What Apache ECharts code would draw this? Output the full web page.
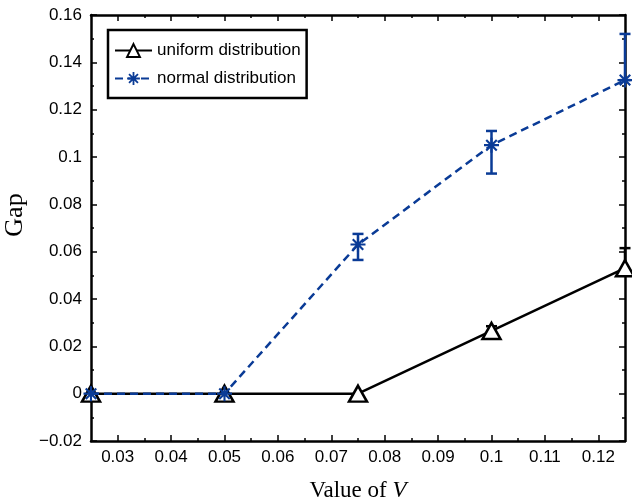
<!DOCTYPE html>
<html>
<head>
<meta charset="utf-8">
<script src="https://cdn.jsdelivr.net/npm/echarts@6/dist/echarts.min.js"></script>
<style>
  html, body { margin: 0; padding: 0; background: #fff; }
  #chart { width: 632px; height: 504px; }
</style>
</head>
<body>
<div id="chart"></div>
<script>
// Values of V on the horizontal axis
const vValues = [0.025, 0.05, 0.075, 0.1, 0.125];
// Gap for each distribution
const uniformGap = [0, 0, 0, 0.0265, 0.053];
const normalGap = [0, 0, 0.063, 0.105, 0.1325];
// Error bar extents
const uniformErrLow = [0, 0, 0, 0.0245, 0.0505];
const uniformErrHigh = [0, 0, 0, 0.0285, 0.0615];
const normalErrLow = [0, 0, 0.0565, 0.093, 0.1325];
const normalErrHigh = [0, 0, 0.0675, 0.111, 0.152];
// Tick positions
const xMajorTicks = [0.03, 0.04, 0.05, 0.06, 0.07, 0.08, 0.09, 0.1, 0.11, 0.12];
const xMinorTicks = [0.035, 0.045, 0.055, 0.065, 0.075, 0.085, 0.095, 0.105, 0.115];

const BLUE = '#0a3b96';
const SANS = '"Liberation Sans", Arial, sans-serif';
const SERIF = '"Liberation Serif", "Times New Roman", serif';

// Eight-armed asterisk marker
const ASTERISK = 'path://' +
  'M-1.4,-10L1.4,-10L1.4,10L-1.4,10Z' +
  'M-10,-1.4L10,-1.4L10,1.4L-10,1.4Z' +
  'M-6.0,-8.0L8.0,6.0L6.0,8.0L-8.0,-6.0Z' +
  'M6.0,-8.0L8.0,-6.0L-6.0,8.0L-8.0,6.0Z';

const fmt = v => String(+v.toFixed(4)).replace('-', '\u2212');

function pairs(xs, ys) { return xs.map((x, i) => [x, ys[i]]); }

const X_MIN = 0.025, X_MAX = 0.125;

function xAxisDef(pos, ticks, len, withLabels, withLine) {
  return {
    type: 'value', position: pos, min: X_MIN, max: X_MAX,
    splitLine: { show: false },
    axisLine: { show: withLine, onZero: false, lineStyle: { color: '#000', width: 2.5 } },
    axisTick: { show: true, inside: true, length: len, customValues: ticks,
                lineStyle: { color: '#000', width: 1.5 } },
    axisLabel: withLabels
      ? { show: true, customValues: ticks, formatter: fmt, color: '#000',
          fontFamily: SANS, fontSize: 17, margin: 8 }
      : { show: false }
  };
}

const chart = echarts.init(document.getElementById('chart'), null, { renderer: 'canvas' });

const xAxes = [
  xAxisDef('bottom', xMajorTicks, 6, true, true),
  xAxisDef('top', xMajorTicks, 6, false, true),
  xAxisDef('bottom', xMinorTicks, 3, false, false),
  xAxisDef('top', xMinorTicks, 3, false, false)
];
xAxes[0].name = 'Value of {i|V}';
xAxes[0].nameLocation = 'middle';
xAxes[0].nameGap = 38;
xAxes[0].nameTextStyle = {
  fontFamily: SERIF, fontSize: 23, color: '#000',
  rich: { i: { fontFamily: SERIF, fontSize: 23, fontStyle: 'italic', color: '#000' } }
};

function yAxisDef(pos, withLabels) {
  return {
    type: 'value', position: pos, min: -0.02, max: 0.16, interval: 0.02,
    splitLine: { show: false },
    axisLine: { show: true, onZero: false, lineStyle: { color: '#000', width: 2.5 } },
    axisTick: { show: true, inside: true, length: 6, lineStyle: { color: '#000', width: 1.5 } },
    minorTick: { show: true, splitNumber: 2, length: 3, lineStyle: { color: '#000', width: 1.5 } },
    axisLabel: withLabels
      ? { show: true, formatter: fmt, color: '#000', fontFamily: SANS, fontSize: 17, margin: 9 }
      : { show: false }
  };
}
const yAxes = [yAxisDef('left', true), yAxisDef('right', false)];
yAxes[0].name = 'Gap';
yAxes[0].nameLocation = 'middle';
yAxes[0].nameGap = 62;
yAxes[0].nameRotate = 90;
yAxes[0].nameTextStyle = { fontFamily: SERIF, fontSize: 26, color: '#000', padding: [0, 0, 0, 26] };

function makeErrorBar(color) {
  return function (params, api) {
    const x = api.value(0), lo = api.value(1), hi = api.value(2);
    if (hi - lo <= 0) return { type: 'group', children: [] };
    const top = api.coord([x, hi]);
    const bot = api.coord([x, lo]);
    const h = 5.5;
    const style = { stroke: color, lineWidth: 2.5 };
    return {
      type: 'group',
      children: [
        { type: 'line', shape: { x1: top[0], y1: top[1], x2: bot[0], y2: bot[1] }, style },
        { type: 'line', shape: { x1: top[0] - h, y1: top[1], x2: top[0] + h, y2: top[1] }, style },
        { type: 'line', shape: { x1: bot[0] - h, y1: bot[1], x2: bot[0] + h, y2: bot[1] }, style }
      ]
    };
  };
}

chart.setOption({
  animation: false,
  backgroundColor: '#fff',
  grid: { left: 91, right: 7, top: 15, bottom: 63, containLabel: false, outerBoundsMode: 'none' },
  xAxis: xAxes,
  yAxis: yAxes,
  legend: {
    data: ['uniform distribution', 'normal distribution'],
    orient: 'vertical',
    left: 108, top: 30,
    padding: [12, 6, 11, 6],
    itemWidth: 37, itemHeight: 16, itemGap: 11,
    backgroundColor: '#fff',
    borderColor: '#000', borderWidth: 2.5,
    textStyle: { fontFamily: SANS, fontSize: 17, color: '#000' }
  },
  series: [
    {
      name: 'uniform distribution', type: 'line',
      xAxisIndex: 0, yAxisIndex: 0,
      data: pairs(vValues, uniformGap),
      clip: false,
      symbol: 'triangle', symbolSize: [18, 16],
      lineStyle: { color: '#000', width: 2.5 },
      itemStyle: { color: '#fff', borderColor: '#000', borderWidth: 2.5 },
      z: 3
    },
    {
      name: 'uniform error', type: 'custom',
      xAxisIndex: 0, yAxisIndex: 0,
      data: vValues.map((x, i) => [x, uniformErrLow[i], uniformErrHigh[i]]),
      renderItem: makeErrorBar('#000'),
      clip: false,
      z: 3
    },
    {
      name: 'normal distribution', type: 'line',
      xAxisIndex: 0, yAxisIndex: 0,
      data: pairs(vValues, normalGap),
      clip: false,
      symbol: ASTERISK, symbolSize: 15,
      lineStyle: { color: BLUE, width: 2.5, type: [8, 5] },
      itemStyle: { color: BLUE, borderWidth: 0 },
      z: 4
    },
    {
      name: 'normal error', type: 'custom',
      xAxisIndex: 0, yAxisIndex: 0,
      data: vValues.map((x, i) => [x, normalErrLow[i], normalErrHigh[i]]),
      renderItem: makeErrorBar(BLUE),
      clip: false,
      z: 4
    }
  ]
});
</script>
</body>
</html>
